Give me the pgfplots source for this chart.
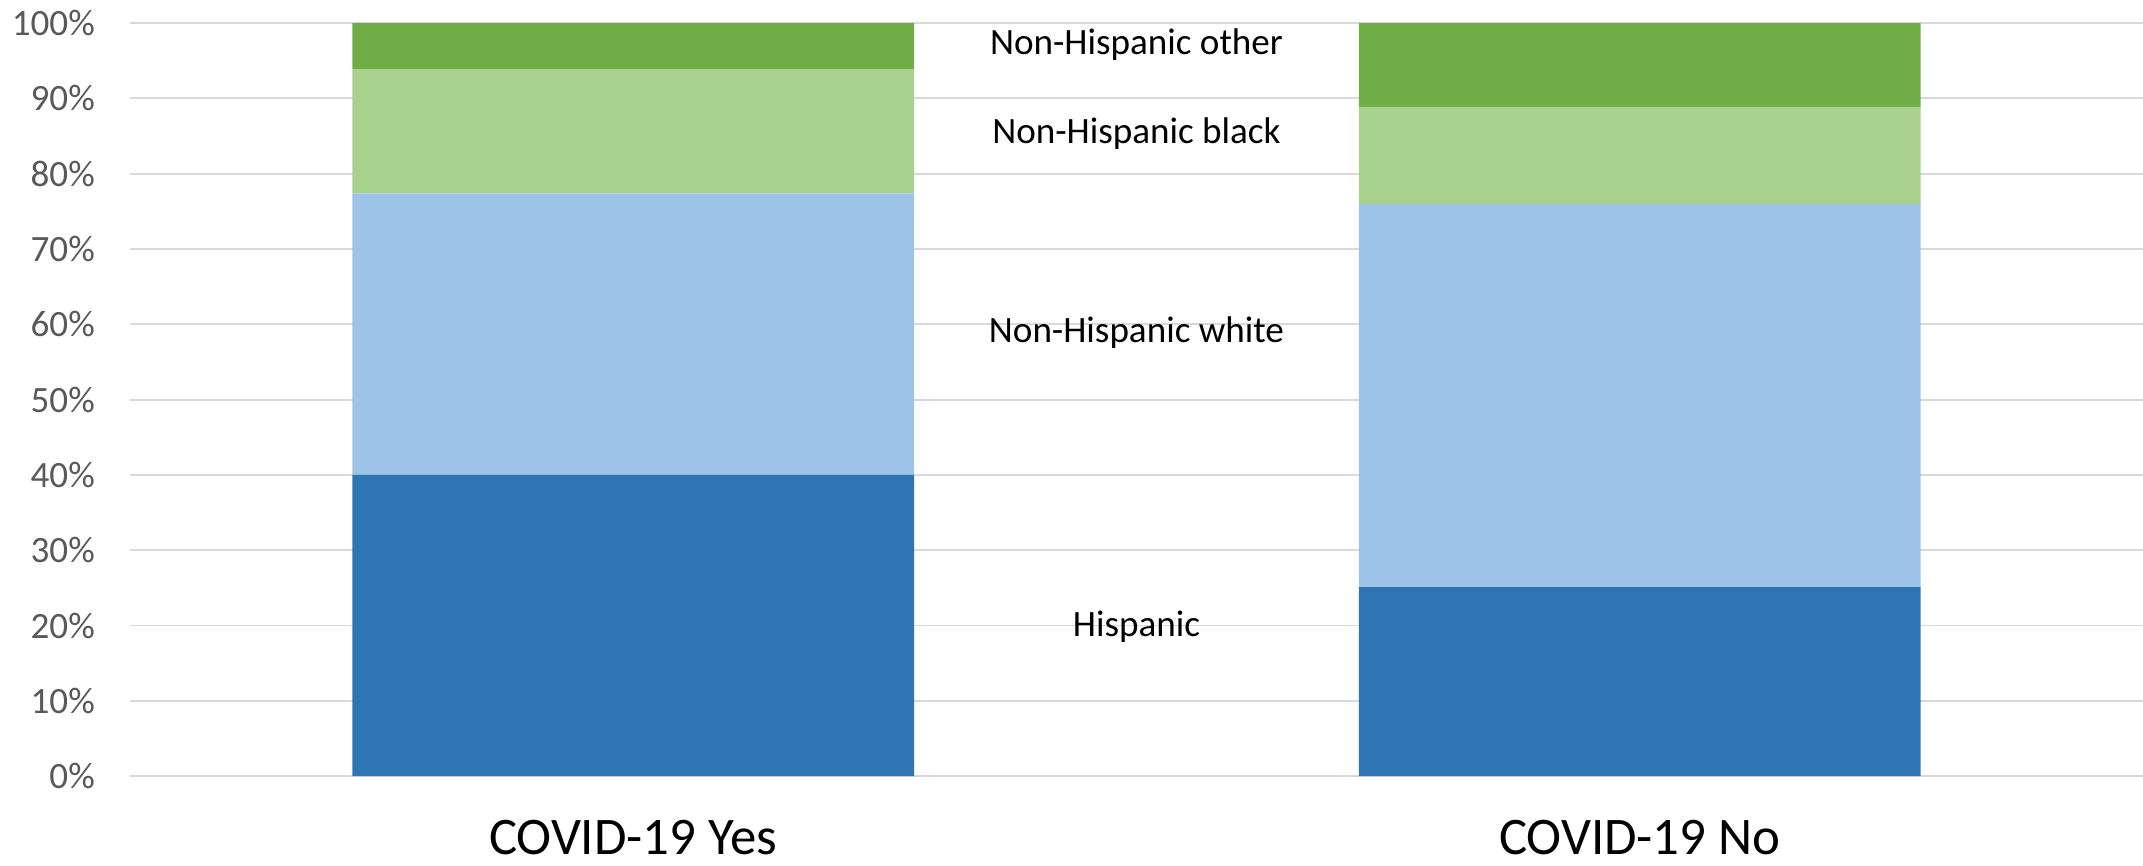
\documentclass[border=0pt]{standalone}
\usepackage{pgfplots}
\pgfplotsset{compat=1.18}
\usepackage{fontspec}
\setmainfont{Carlito}

\definecolor{hisp}{HTML}{2E75B6}
\definecolor{nhwhite}{HTML}{9DC3E6}
\definecolor{nhblack}{HTML}{A9D18E}
\definecolor{nhother}{HTML}{70AD47}
\definecolor{gridgray}{HTML}{D9D9D9}
\definecolor{tickgray}{HTML}{595959}

\begin{document}
\begin{tikzpicture}
\begin{axis}[
  name=ax,
  scale only axis,
  width=563.9pt, height=210.9pt,
  ybar stacked,
  bar width=0.558,
  xmin=-0.5, xmax=1.5,
  ymin=0, ymax=100,
  enlargelimits=false,
  xtick={0,1},
  xticklabels={COVID-19 Yes, COVID-19 No},
  ytick={0,10,...,100},
  yticklabel={\pgfmathprintnumber{\tick}\%},
  /pgf/number format/assume math mode=true,
  axis line style={draw=none},
  tick style={draw=none},
  major tick length=0pt,
  ymajorgrids,
  grid style={color=gridgray, line width=0.55pt},
  xticklabel style={font=\fontsize{14.8}{16}\selectfont, text=black, yshift=-8.9pt},
  yticklabel style={font=\fontsize{10.4}{12}\selectfont, text=tickgray, xshift=-6.3pt},
  clip=false,
]
% shares of each group, bottom to top
\addplot[fill=hisp, draw=none]    coordinates {(0,40.0) (1,25.1)};
\addplot[fill=nhwhite, draw=none] coordinates {(0,37.4) (1,50.9)};
\addplot[fill=nhblack, draw=none] coordinates {(0,16.5) (1,12.9)};
\addplot[fill=nhother, draw=none] coordinates {(0,6.1) (1,11.1)};

\node[font=\fontsize{10.4}{12}\selectfont] at (axis cs:0.5,97.1) {Non-Hispanic other};
\node[font=\fontsize{10.4}{12}\selectfont] at (axis cs:0.5,85.3) {Non-Hispanic black};
\node[font=\fontsize{10.4}{12}\selectfont] at (axis cs:0.5,58.9) {Non-Hispanic white};
\node[font=\fontsize{10.4}{12}\selectfont] at (axis cs:0.5,19.9) {Hispanic};
\end{axis}
\pgfresetboundingbox
\path[use as bounding box] ([xshift=-36.4pt,yshift=-25pt]ax.south west) rectangle ([yshift=6.5pt]ax.north east);
\end{tikzpicture}
\end{document}
